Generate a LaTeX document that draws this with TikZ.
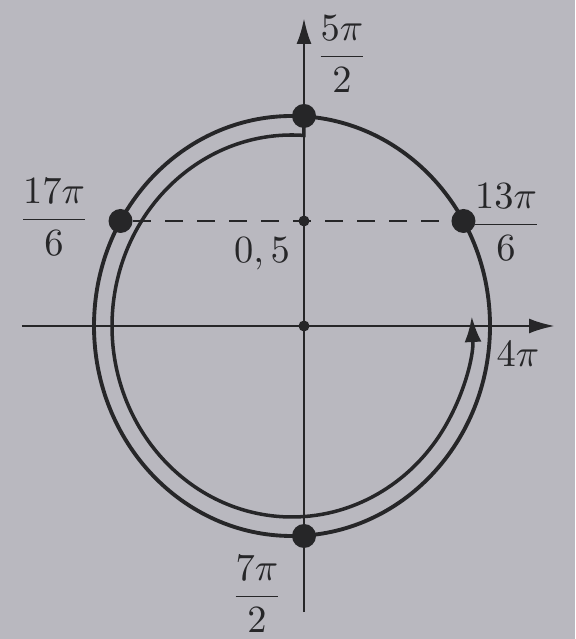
\documentclass[tikz,border=0pt]{standalone}
\usepackage{amsmath}
\usepackage{tikz}
\definecolor{papel}{HTML}{B9B8BF}
\definecolor{tinta}{HTML}{262628}
\usetikzlibrary{
	arrows.meta,
	positioning,
	calc
}
\tikzset{
	eje/.style={
		-{Latex[length=2.6mm,width=1.5mm]},
		thick,
		tinta
	},
	circulo/.style={
		line width=1.1pt,
		tinta
	},
	recorrido/.style={
		-{Latex[length=2.6mm,width=1.7mm]},
		line width=1pt,
		tinta
	},
	punto/.style={
		circle,
		fill=tinta,
		inner sep=0pt,
		minimum size=2.4mm
	},
	puntito/.style={
		circle,
		fill=tinta,
		inner sep=0pt,
		minimum size=1.1mm
	},
	etiqueta/.style={
		font=\fontsize{11pt}{13pt}\selectfont,
		text=tinta,
		inner sep=1pt
	}
}

\begin{document}
\begin{tikzpicture}
		\fill[papel] (-3.04,-3.13) rectangle (2.71,3.26);
		\useasboundingbox (-3.04,-3.13) rectangle (2.71,3.26);
		\coordinate (C) at (-0.12,0);
		\coordinate (ejeXi) at (-2.82,0);
		\coordinate (ejeXf) at (2.51,0);
		\coordinate (ejeYi) at (0,-2.86);
		\coordinate (ejeYf) at (0,3.08);
		\draw[eje] (ejeXi) -- (ejeXf);
		\draw[eje] (ejeYi) -- (ejeYf);
		\draw[circulo] (C) ellipse [x radius=1.98, y radius=2.1];
		\node[punto] (p52) at (0,2.1) {};
		\node[punto] (p72) at (0,-2.1) {};
		\node[punto] (p136) at ($(C)+({1.98*cos(30)},1.05)$) {};
		\node[punto] (p176) at ($(C)+({-1.98*cos(30)},1.05)$) {};
		\node[puntito] (centro) at (0,0) {};
		\node[puntito] (medio) at (0,1.05) {};
		% recorrido de 5pi/2 hasta 4pi
		\draw[recorrido] (p52.center) -- ($(C)+({1.80*cos(86.2)},{1.91*sin(86.2)})$) arc[start angle=86.2, end angle=363, x radius=1.80, y radius=1.91];
		\draw[dashed, thick, tinta, dash pattern=on 1.8mm off 1.4mm] (p176) -- (p136);
		\node[etiqueta] (l52) at (0.38,2.72) {$\dfrac{5\pi}{2}$};
		\node[etiqueta] (l136) at (2.02,1.04) {$\dfrac{13\pi}{6}$};
		\node[etiqueta] (l176) at (-2.50,1.09) {$\dfrac{17\pi}{6}$};
		\node[etiqueta] (l72) at (-0.47,-2.68) {$\dfrac{7\pi}{2}$};
		\node[etiqueta] (l05) at (-0.42,0.72) {$0,5$};
		\node[etiqueta] (l4) at (2.14,-0.28) {$4\pi$};
	\end{tikzpicture}
\end{document}
